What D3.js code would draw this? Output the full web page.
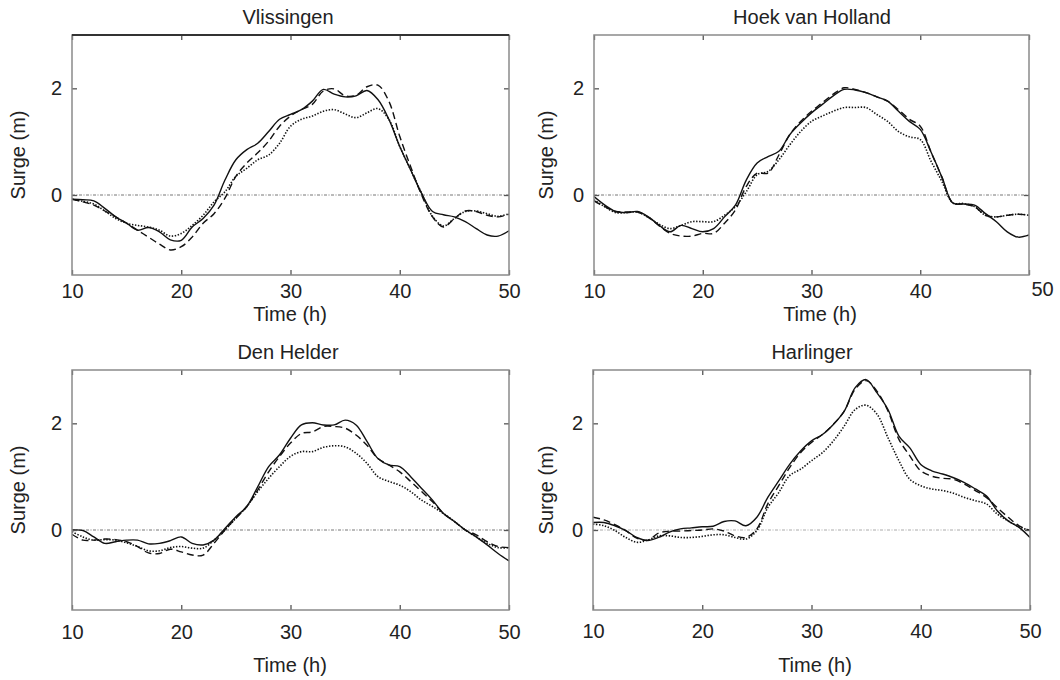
<!DOCTYPE html>
<html><head><meta charset="utf-8">
<script src="https://cdn.jsdelivr.net/npm/d3@7"></script>
<style>
body{margin:0;background:#fff;}
svg{display:block;}
text{font-family:"Liberation Sans",Arial,sans-serif;fill:#222;}
</style></head><body>
<svg id="chart" width="1060" height="680"></svg>
<script>
// ---------- data ----------
const stations = ["Vlissingen", "Hoek van Holland", "Den Helder", "Harlinger"];
const hours = [10,11,12,13,14,15,16,17,18,19,20,21,22,23,24,25,26,27,28,29,30,
               31,32,33,34,35,36,37,38,39,40,41,42,43,44,45,46,47,48,49,50];
const xTicks = [10, 20, 30, 40, 50];
const yTicks = [0, 2];
const xDomain = [10, 50];
const yDomain = [-1.5, 3];
const seriesNames = ["solid", "dashed", "dotted"];

const vlisSolid  = [-0.08,-0.09,-0.11,-0.25,-0.41,-0.53,-0.66,-0.61,-0.69,-0.84,-0.85,-0.60,-0.44,-0.19,0.28,0.66,0.85,0.97,1.19,1.42,1.51,
                    1.60,1.76,1.98,1.89,1.84,1.86,1.96,1.79,1.42,0.91,0.47,0.03,-0.31,-0.37,-0.41,-0.50,-0.63,-0.75,-0.77,-0.67];
const vlisDashed = [-0.08,-0.13,-0.19,-0.30,-0.41,-0.53,-0.66,-0.79,-0.92,-1.03,-0.97,-0.79,-0.53,-0.35,-0.06,0.35,0.60,0.79,1.01,1.29,1.48,
                    1.60,1.70,1.95,1.99,1.86,1.87,2.03,2.06,1.76,1.10,0.53,0.00,-0.41,-0.60,-0.44,-0.30,-0.31,-0.38,-0.41,-0.36];
const vlisDotted = [-0.08,-0.12,-0.17,-0.30,-0.44,-0.53,-0.57,-0.60,-0.66,-0.77,-0.72,-0.57,-0.38,-0.13,0.06,0.35,0.50,0.66,0.75,0.97,1.29,
                    1.42,1.48,1.57,1.60,1.52,1.45,1.54,1.62,1.42,0.91,0.47,0.03,-0.40,-0.58,-0.44,-0.31,-0.30,-0.35,-0.40,-0.35];

const hoekSolid  = [-0.03,-0.19,-0.31,-0.33,-0.31,-0.41,-0.57,-0.69,-0.57,-0.63,-0.69,-0.63,-0.41,-0.19,0.28,0.60,0.72,0.82,1.13,1.35,1.54,
                    1.70,1.86,1.98,1.97,1.92,1.84,1.76,1.57,1.38,1.23,0.80,0.33,-0.15,-0.17,-0.19,-0.35,-0.50,-0.69,-0.79,-0.75];
const hoekDashed = [-0.11,-0.22,-0.31,-0.32,-0.32,-0.42,-0.58,-0.72,-0.77,-0.77,-0.72,-0.72,-0.53,-0.28,0.16,0.41,0.41,0.75,1.13,1.38,1.57,
                    1.73,1.89,2.01,1.98,1.92,1.84,1.76,1.60,1.42,1.29,0.80,0.33,-0.15,-0.17,-0.22,-0.38,-0.41,-0.38,-0.36,-0.38];
const hoekDotted = [-0.09,-0.22,-0.33,-0.33,-0.32,-0.42,-0.55,-0.63,-0.57,-0.50,-0.50,-0.50,-0.38,-0.22,0.06,0.38,0.44,0.66,0.94,1.19,1.38,
                    1.48,1.57,1.64,1.64,1.64,1.51,1.38,1.19,1.09,1.04,0.63,0.25,-0.15,-0.16,-0.22,-0.38,-0.41,-0.38,-0.36,-0.38];

const heldSolid  = [0.00,-0.01,-0.13,-0.25,-0.22,-0.19,-0.19,-0.26,-0.25,-0.20,-0.13,-0.25,-0.28,-0.19,0.03,0.25,0.44,0.81,1.19,1.41,1.72,
                    1.97,2.01,1.97,1.97,2.06,1.97,1.66,1.34,1.22,1.19,1.00,0.78,0.56,0.31,0.16,0.00,-0.13,-0.28,-0.44,-0.58];
const heldDashed = [-0.08,-0.19,-0.19,-0.17,-0.18,-0.22,-0.31,-0.43,-0.44,-0.36,-0.41,-0.47,-0.47,-0.25,0.00,0.22,0.44,0.75,1.09,1.38,1.63,
                    1.81,1.84,1.94,1.94,1.91,1.78,1.59,1.34,1.22,1.09,0.91,0.72,0.53,0.31,0.16,0.00,-0.09,-0.22,-0.31,-0.33];
const heldDotted = [-0.03,-0.13,-0.19,-0.18,-0.19,-0.24,-0.31,-0.39,-0.39,-0.33,-0.31,-0.34,-0.34,-0.19,0.00,0.22,0.44,0.72,0.97,1.19,1.38,
                    1.47,1.47,1.55,1.58,1.56,1.44,1.25,1.00,0.91,0.84,0.72,0.56,0.44,0.31,0.16,0.00,-0.13,-0.25,-0.33,-0.33];

const harlSolid  = [0.14,0.14,0.08,-0.01,-0.14,-0.20,-0.14,-0.04,0.02,0.04,0.06,0.07,0.16,0.17,0.08,0.24,0.61,0.92,1.23,1.48,1.67,
                    1.79,1.98,2.23,2.67,2.82,2.57,2.26,1.76,1.54,1.23,1.11,1.05,0.98,0.89,0.77,0.64,0.36,0.17,0.05,-0.14];
const harlDashed = [0.24,0.19,0.10,-0.01,-0.15,-0.19,-0.06,-0.02,-0.02,-0.01,0.00,0.02,-0.02,-0.11,-0.14,0.02,0.49,0.83,1.17,1.45,1.64,
                    1.79,1.98,2.23,2.64,2.80,2.60,2.23,1.70,1.39,1.11,1.01,0.97,0.95,0.86,0.74,0.61,0.42,0.24,0.08,-0.01];
const harlDotted = [0.11,0.08,-0.01,-0.14,-0.23,-0.19,-0.11,-0.11,-0.14,-0.14,-0.12,-0.09,-0.09,-0.14,-0.17,-0.01,0.42,0.70,1.02,1.14,1.30,
                    1.45,1.67,1.95,2.26,2.34,2.17,1.73,1.30,0.95,0.83,0.77,0.74,0.69,0.61,0.55,0.49,0.30,0.17,0.06,-0.01];

const panelSeries = [
  [vlisSolid, vlisDashed, vlisDotted],
  [hoekSolid, hoekDashed, hoekDotted],
  [heldSolid, heldDashed, heldDotted],
  [harlSolid, harlDashed, harlDotted]
];

// ---------- layout / style ----------
const layout = [
  {x0:72,  x1:509,  y0:35,  y1:275, titleX:288, titleY:24,  tickPad:9,  timeY:321, timeX:290, surgeX:25,  zero:"#777"},
  {x0:594, x1:1029, y0:35,  y1:275, titleX:812, titleY:24,  tickPad:9,  timeY:321, timeX:820, surgeX:553, zero:"#777"},
  {x0:72,  x1:509,  y0:370, y1:610, titleX:288, titleY:359, tickPad:15, timeY:672, timeX:290, surgeX:25,  zero:"#777"},
  {x0:593, x1:1030, y0:370, y1:610, titleX:812, titleY:359, tickPad:14, timeY:672, timeX:815, surgeX:553, zero:"#aaa"}
];
const styles = {
  solid:  {dash:null,       width:1.4},
  dashed: {dash:"7,4",      width:1.4},
  dotted: {dash:"1.4,1.6",  width:1.6}
};
const FS = 20;

const svg = d3.select("#chart");

panelSeries.forEach((series, pi) => {
  const L = layout[pi];
  const x = d3.scaleLinear().domain(xDomain).range([L.x0, L.x1]);
  const y = d3.scaleLinear().domain(yDomain).range([L.y1, L.y0]);
  const g = svg.append("g");

  const clipId = "clip" + pi;
  svg.append("clipPath").attr("id", clipId).append("rect")
    .attr("x", L.x0).attr("y", L.y0).attr("width", L.x1 - L.x0).attr("height", L.y1 - L.y0);

  // zero line
  g.append("line")
    .attr("x1", x(xDomain[0])).attr("x2", x(xDomain[1]))
    .attr("y1", y(0)).attr("y2", y(0))
    .attr("stroke", L.zero).attr("stroke-width", 1)
    .attr("stroke-dasharray", "3,1.5,1,1.5");

  const line = d3.line()
    .x((d, i) => x(hours[i]))
    .y(d => y(d))
    .curve(d3.curveCatmullRom.alpha(0.5));

  const order = [2, 1, 0];
  order.forEach(si => {
    const st = styles[seriesNames[si]];
    g.append("path")
      .attr("clip-path", `url(#${clipId})`)
      .attr("d", line(series[si]))
      .attr("fill", "none")
      .attr("stroke", "#111")
      .attr("stroke-width", st.width)
      .attr("stroke-dasharray", st.dash)
      .attr("stroke-linejoin", "round");
  });

  // axes with inward ticks
  const axB = g.append("g").attr("transform", `translate(0,${L.y1})`)
    .call(d3.axisBottom(x).tickValues(xTicks).tickSize(-5).tickPadding(L.tickPad).tickFormat(d3.format("d")));
  const axT = g.append("g").attr("transform", `translate(0,${L.y0})`)
    .call(d3.axisTop(x).tickValues(xTicks).tickSize(-5).tickFormat(""));
  const axL = g.append("g").attr("transform", `translate(${L.x0},0)`)
    .call(d3.axisLeft(y).tickValues(yTicks).tickSize(-5).tickPadding(10).tickFormat(d3.format("d")));
  const axR = g.append("g").attr("transform", `translate(${L.x1},0)`)
    .call(d3.axisRight(y).tickValues(yTicks).tickSize(-5).tickFormat(""));

  [axB, axT, axL, axR].forEach(a => {
    a.select(".domain").remove();
    a.selectAll(".tick line").attr("stroke", "#555").attr("stroke-width", 1.3);
    a.selectAll("text").attr("font-size", FS).attr("fill", "#222")
      .attr("font-family", '"Liberation Sans", Arial, sans-serif');
  });
  if (pi === 1) {
    axB.selectAll(".tick text").filter(d => d === 50).attr("dx", 13).attr("dy", "0.6em");
  }

  // frame
  g.append("rect")
    .attr("x", L.x0).attr("y", L.y0).attr("width", L.x1 - L.x0).attr("height", L.y1 - L.y0)
    .attr("fill", "none").attr("stroke", "#8a8a8a").attr("stroke-width", 1.5);
  if (pi === 0) {
    g.append("line").attr("x1", L.x0).attr("x2", L.x1).attr("y1", L.y0).attr("y2", L.y0)
      .attr("stroke", "#333").attr("stroke-width", 2);
  }

  // titles / labels
  g.append("text").attr("x", L.titleX).attr("y", L.titleY).attr("text-anchor", "middle")
    .attr("font-size", FS).text(stations[pi]);
  g.append("text").attr("x", L.timeX).attr("y", L.timeY).attr("text-anchor", "middle")
    .attr("font-size", FS).text("Time (h)");
  g.append("text").attr("transform", `translate(${L.surgeX},${(L.y0 + L.y1) / 2}) rotate(-90)`)
    .attr("text-anchor", "middle").attr("font-size", FS).text("Surge (m)");
});
</script>
</body></html>
